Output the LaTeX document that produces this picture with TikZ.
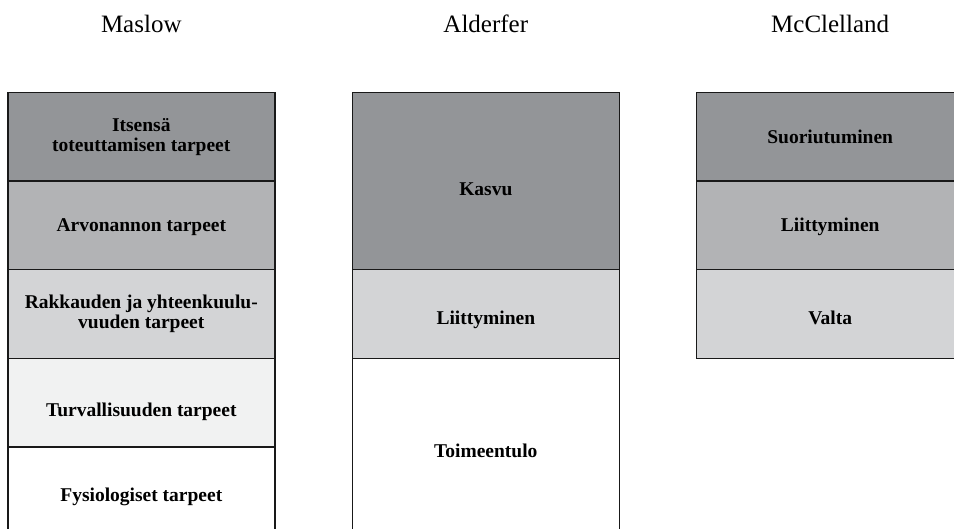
\documentclass[tikz,border=0pt]{standalone}
\usepackage{fontspec}
\setmainfont{Liberation Serif}
\usetikzlibrary{positioning}
\definecolor{needA}{HTML}{939598}
\definecolor{needB}{HTML}{B2B3B5}
\definecolor{needC}{HTML}{D3D4D6}
\definecolor{needD}{HTML}{F1F2F2}
\begin{document}
\begin{tikzpicture}[
  x=1pt, y=1pt,
  node distance=0pt,
  title/.style={anchor=base, font=\fontsize{25}{27}\selectfont},
  need/.style={draw=black!90, line width=1.5pt, minimum width=267pt, minimum height=88.6pt, inner sep=0pt, outer sep=0pt, align=center, font=\fontsize{19.5}{20}\selectfont\bfseries},
  tallneed/.style={need, minimum height=177.2pt},
  word/.style={text height=13pt, text depth=0pt},
  low/.style={text height=21pt, text depth=0pt},
  lower/.style={text height=28.5pt, text depth=0pt}
]
\useasboundingbox (0,0) rectangle (954,-529);
% column titles
\node[title] (tmaslow) at (141.3,-33) {Maslow};
\node[title] (talderfer) at (485.8,-33) {Alderfer};
\node[title] (tmcclelland) at (830.2,-33) {McClelland};
% Maslow
\node[need, fill=needA] (mas1) at (141.3,-136.8) {Itsensä\\toteuttamisen tarpeet};
\node[need, word, fill=needB, below=of mas1] (mas2) {Arvonannon tarpeet};
\node[need, fill=needC, below=of mas2] (mas3) {Rakkauden ja yhteenkuulu-\\vuuden tarpeet};
\node[need, lower, fill=needD, below=of mas3] (mas4) {Turvallisuuden tarpeet};
\node[need, low, fill=white, below=of mas4] (mas5) {Fysiologiset tarpeet};
% Alderfer
\node[tallneed, lower, fill=needA] (ald1) at (485.8,-181.1) {Kasvu};
\node[need, low, fill=needC, below=of ald1] (ald2) {Liittyminen};
\node[tallneed, low, fill=white, below=of ald2] (ald3) {Toimeentulo};
% McClelland
\node[need, word, fill=needA] (mcc1) at (830.2,-136.8) {Suoriutuminen};
\node[need, word, fill=needB, below=of mcc1] (mcc2) {Liittyminen};
\node[need, low, fill=needC, below=of mcc2] (mcc3) {Valta};
\end{tikzpicture}
\end{document}
